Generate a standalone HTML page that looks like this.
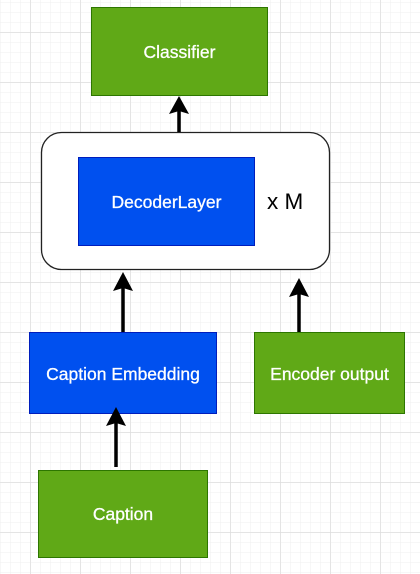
<!DOCTYPE html>
<html><head><style>
html,body{margin:0;padding:0;width:420px;height:574px;overflow:hidden;background:#fff;}
svg{display:block}
text{font-family:"Liberation Sans",Arial,sans-serif;}
</style></head><body>
<svg width="420" height="574" xmlns="http://www.w3.org/2000/svg">
<defs>
<pattern id="minor" width="10" height="10" patternUnits="userSpaceOnUse" x="0" y="2">
<path d="M10 0H0V10" fill="none" stroke="#efefef" stroke-width="1"/>
</pattern>
<pattern id="major" width="50" height="50" patternUnits="userSpaceOnUse" x="30.5" y="32.5">
<path d="M50 0H0V50" fill="none" stroke="#d8d8d8" stroke-width="1"/>
</pattern>
</defs>
<rect width="420" height="574" fill="url(#minor)"/>
<rect width="420" height="574" fill="url(#major)"/>

<rect x="91.5" y="7.5" width="176" height="88" fill="#60a917" stroke="#2d7600"/>
<text x="179.5" y="58" font-size="17.5" fill="#fff" stroke="#fff" stroke-width="0.3" text-anchor="middle">Classifier</text>

<rect x="41.5" y="132.5" width="288" height="137" rx="20" fill="#fff" stroke="#222" stroke-width="1.3"/>
<rect x="78.5" y="157.5" width="176" height="88" fill="#0050ef" stroke="#001dbc"/>
<text x="166.5" y="208" font-size="17.5" fill="#fff" stroke="#fff" stroke-width="0.3" text-anchor="middle">DecoderLayer</text>
<text x="267" y="209" font-size="22.5" fill="#000">x M</text>

<rect x="29.5" y="332.5" width="187" height="81" fill="#0050ef" stroke="#001dbc"/>
<text x="123" y="380" font-size="17.5" fill="#fff" stroke="#fff" stroke-width="0.3" text-anchor="middle">Caption Embedding</text>

<rect x="254.5" y="332.5" width="150" height="81" fill="#60a917" stroke="#2d7600"/>
<text x="329.5" y="380" font-size="17.5" fill="#fff" stroke="#fff" stroke-width="0.3" text-anchor="middle">Encoder output</text>

<rect x="38.5" y="470.5" width="169" height="87" fill="#60a917" stroke="#2d7600"/>
<text x="123" y="520" font-size="17.5" fill="#fff" stroke="#fff" stroke-width="0.3" text-anchor="middle">Caption</text>

<g stroke="#000" stroke-width="3.5" fill="none">
<line x1="179" y1="132" x2="179" y2="110"/>
<line x1="123" y1="332" x2="123" y2="286"/>
<line x1="299" y1="332" x2="299" y2="292"/>
<line x1="116" y1="467" x2="116" y2="421"/>
</g>
<g fill="#000">
<path d="M179 96 L189 114 L179 111 L169 114Z"/>
<path d="M123 272 L133 291 L123 288 L113 291Z"/>
<path d="M299 278 L309 297 L299 294 L289 297Z"/>
<path d="M116 407 L126 426 L116 423 L106 426Z"/>
</g>
</svg>
</body></html>
